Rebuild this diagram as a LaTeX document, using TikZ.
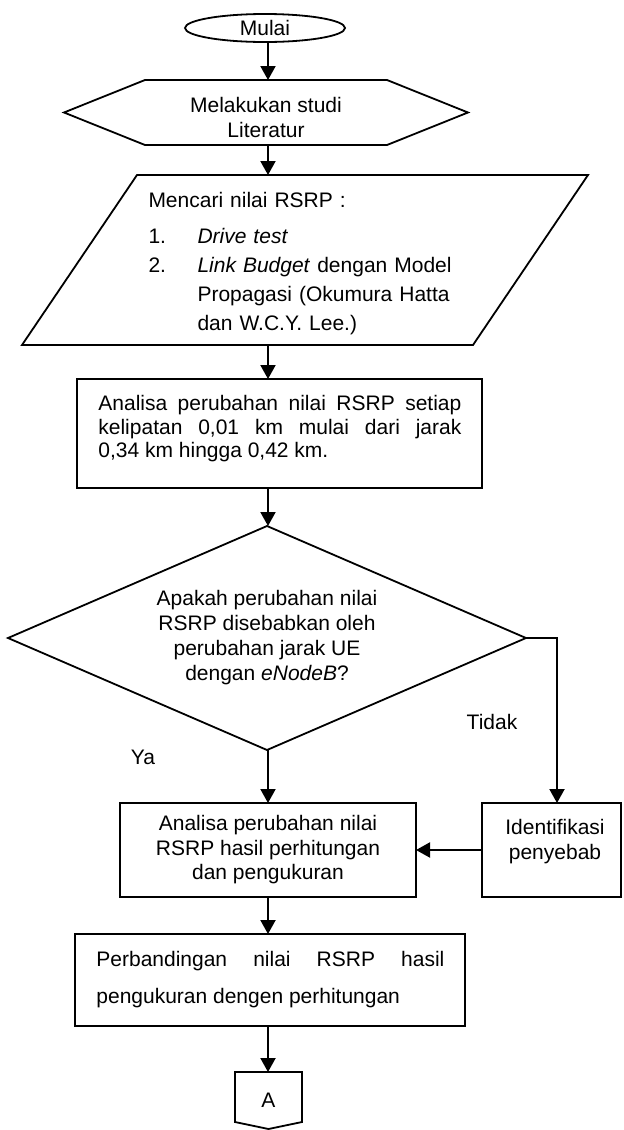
\documentclass[tikz,border=0pt]{standalone}
\usepackage{fontspec}
\setmainfont{Liberation Sans}
\usetikzlibrary{arrows.meta,calc,shapes.geometric}
\newcommand{\ukuran}[1]{\fontsize{10.5}{#1}\selectfont}
\tikzset{
  garis/.style={line width=0.9pt, line join=miter},
  kotak/.style={draw, garis, inner sep=0pt, outer sep=0pt},
  bidang/.style={inner sep=0pt, outer sep=0pt},     % outline drawn by hand
  teks/.style={inner sep=0pt, align=center},
  panah/.style={-{Triangle[length=7pt,width=7.5pt]}, line width=1pt, line join=miter},
  keterangan/.style={inner sep=0pt, font=\ukuran{12.5}}
}

\begin{document}
\begin{tikzpicture}[x=0.5pt,y=-0.5pt]
  \useasboundingbox (0,0) rectangle (623,1130);
  \coordinate (sumbu) at (268,0);
  % mulai
  \node[kotak, ellipse, minimum width=80pt, minimum height=14pt, font=\ukuran{12.5}] (mulai) at (265,28) {Mulai};
  % studi literatur
  \node[bidang, minimum width=202pt, minimum height=32.5pt] (studi) at (266,112.5) {};
  \draw[garis] (studi.west) -- ([xshift=40.5pt]studi.north west) -- ([xshift=-40.5pt]studi.north east)
    -- (studi.east) -- ([xshift=-40.5pt]studi.south east) -- ([xshift=40.5pt]studi.south west) -- cycle;
  \node[teks, font=\ukuran{12.5}] (studiTeks) at ([yshift=-2.5pt]studi.center) {Melakukan studi\\Literatur};
  % mencari nilai RSRP
  \node[bidang, minimum width=225.5pt, minimum height=85pt] (cari) at (305,260) {};
  \draw[garis] ([xshift=28.75pt]cari.north west) -- ([xshift=28.75pt]cari.north east)
    -- ([xshift=-28.75pt]cari.south east) -- ([xshift=-28.75pt]cari.south west) -- cycle;
  \node[teks, text width=156.5pt, font=\ukuran{14.4}, align=left] (cariTeks) at ([yshift=-1.75pt]cari.center) {%
    Mencari nilai RSRP :\\[3.6pt]
    \makebox[24.5pt][l]{1.}\textit{Drive test}\\
    \makebox[24.5pt][l]{2.}\parbox[t]{132pt}{\textit{Link Budget} dengan Model\linebreak Propagasi (Okumura Hatta\linebreak dan W.C.Y. Lee.)}};
  % analisa tiap kelipatan jarak
  \node[kotak, minimum width=202.5pt, minimum height=54.5pt] (analisa) at (279.5,433.5) {};
  \node[teks, text width=181.5pt, align=justify, font=\ukuran{11.75}, anchor=north west] (analisaTeks) at ([xshift=10.5pt,yshift=-8pt]analisa.north west) {Analisa perubahan nilai RSRP setiap\linebreak kelipatan 0,01 km mulai dari jarak\linebreak 0,34 km hingga 0,42 km.};
  % keputusan
  \node[bidang, minimum width=259pt, minimum height=112pt, align=center, font=\ukuran{12.5}] (apakah) at (267,638) {Apakah perubahan nilai\\RSRP disebabkan oleh\\perubahan jarak UE\\dengan \textit{eNodeB}?};
  \draw[garis] (apakah.north) -- (apakah.east) -- (apakah.south) -- (apakah.west) -- cycle;
  \node[keterangan] (ya) at (143,757) {Ya};
  \node[keterangan] (tidak) at (492,722) {Tidak};
  % analisa hasil
  \node[kotak, minimum width=148pt, minimum height=47pt, align=center, font=\ukuran{12.25}] (hasil) at (268,850) {Analisa perubahan nilai\\RSRP hasil perhitungan\\dan pengukuran};
  % identifikasi penyebab
  \node[kotak, minimum width=69.5pt, minimum height=47pt] (identifikasi) at (551.5,850) {};
  \node[teks, font=\ukuran{12.5}, anchor=north] (identifikasiTeks) at ([xshift=1.75pt,yshift=-8pt]identifikasi.north) {Identifikasi\\penyebab};
  % perbandingan
  \node[kotak, minimum width=195pt, minimum height=46pt] (banding) at (270,980) {};
  \node[teks, text width=174pt, align=justify, font=\ukuran{18.5}, anchor=north west] (bandingTeks) at ([xshift=10.5pt,yshift=-8.25pt]banding.north west) {Perbandingan nilai RSRP hasil\linebreak pengukuran dengen perhitungan};
  % konektor halaman
  \node[bidang, minimum width=33.5pt, minimum height=28.5pt, font=\ukuran{12.5}] (konektorA) at (268.5,1100.5) {A};
  \draw[garis] (konektorA.north west) -- (konektorA.north east) -- ([yshift=3.5pt]konektorA.south east)
    -- (konektorA.south) -- ([yshift=3.5pt]konektorA.south west) -- cycle;
  % alur
  \draw[panah] (sumbu |- mulai.south) -- (sumbu |- studi.north);
  \draw[panah] (sumbu |- studi.south) -- (sumbu |- cari.north);
  \draw[panah] (sumbu |- cari.south) -- (sumbu |- analisa.north);
  \draw[panah] (sumbu |- analisa.south) -- (sumbu |- apakah.north);
  \draw[panah] (sumbu |- apakah.south) -- (sumbu |- hasil.north);
  \draw[panah] (apakah.east) -| ([xshift=2.75pt]identifikasi.north);
  \draw[panah] (identifikasi.west) -- (hasil.east);
  \draw[panah] (sumbu |- hasil.south) -- (sumbu |- banding.north);
  \draw[panah] (sumbu |- banding.south) -- (sumbu |- konektorA.north);
\end{tikzpicture}
\end{document}
